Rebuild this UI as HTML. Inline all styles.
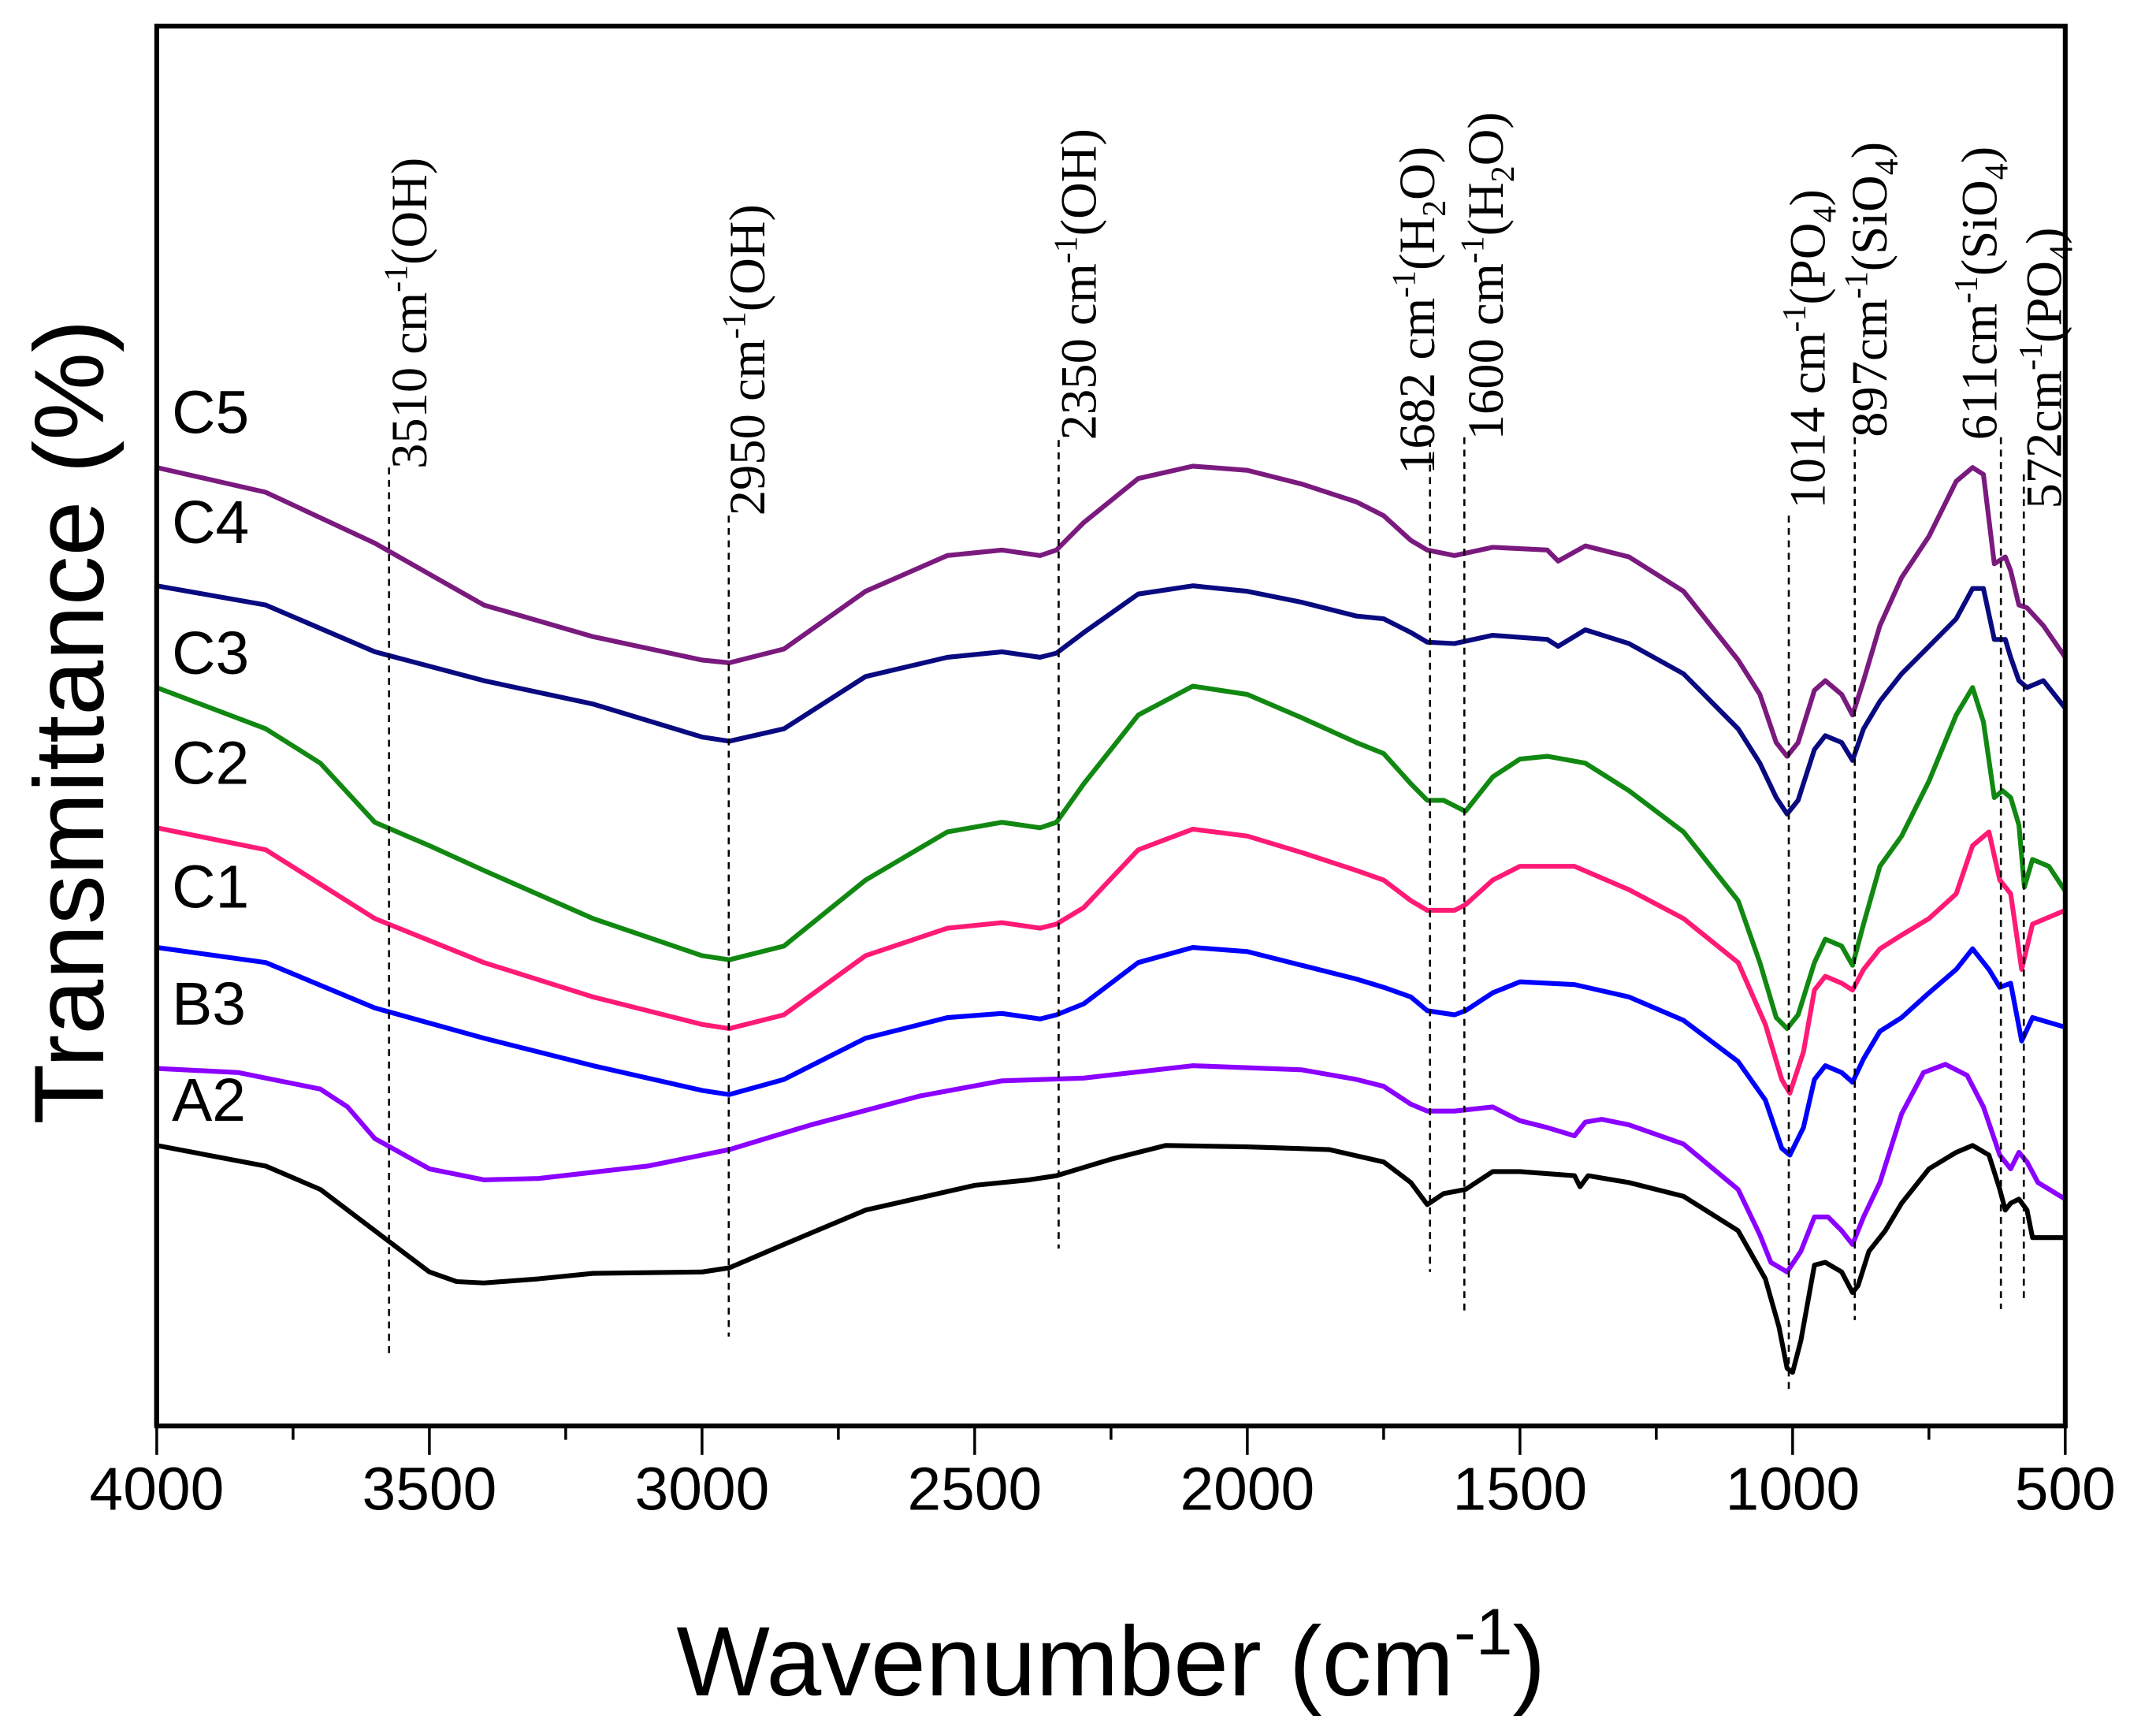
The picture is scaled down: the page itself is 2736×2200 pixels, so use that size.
<!DOCTYPE html>
<html><head><meta charset="utf-8"><style>
html,body{margin:0;padding:0;background:#fff}
svg{display:block}
</style></head><body>
<svg id="chart" xmlns="http://www.w3.org/2000/svg" width="2736" height="2200" viewBox="0 0 1568 1261" preserveAspectRatio="none">
<rect width="1568" height="1261" fill="#fff"/>
<g id="marks"></g>
<g id="annots"></g>
<rect x="114" y="19" width="1388" height="1018" fill="none" stroke="#000" stroke-width="3.5"/>
<g id="axis"></g>
<text transform="translate(75,525) rotate(-90)" text-anchor="middle" font-family="Liberation Sans, sans-serif" font-size="72">Transmittance (%)</text>
<text x="808" y="1233" text-anchor="middle" font-family="Liberation Sans, sans-serif" font-size="72">Wavenumber (cm<tspan dy="-30" font-size="48">-1</tspan><tspan dy="30">)</tspan></text>
</svg>
<script>
const xTicks=[4000,3500,3000,2500,2000,1500,1000,500];
const seriesNames=["A2","B3","C1","C2","C3","C4","C5"];
const seriesColors=["#000000","#8B00FF","#0000FF","#FF1A75","#118811","#0A0A80","#7A1A7E"];
const labelY=[815,745,660,570,490,395,315];
// values = transmittance (arbitrary units, 0 at bottom of frame, 1018 at top)
const wA2=[4000,3800,3700,3600,3500,3450,3400,3300,3200,3000,2950,2850,2700,2500,2400,2350,2250,2150,2000,1850,1750,1700,1670,1640,1600,1550,1500,1400,1390,1375,1300,1200,1100,1050,1025,1010,1000,985,960,940,910,890,880,860,830,800,750,700,670,640,620,610,600,585,570,560,540,500];
const vA2=[204,189,172,142,112,105,104,107,111,112,115,132,157,175,179,182,194,204,203,201,192,177,161,169,172,185,185,182,174,182,177,167,142,107,72,42,39,62,117,119,112,97,102,127,142,162,187,199,204,197,172,157,162,165,157,137,137,137];
const wB3=[4000,3850,3700,3650,3600,3500,3400,3300,3100,2950,2800,2600,2450,2300,2100,1900,1800,1750,1700,1670,1620,1550,1500,1450,1400,1380,1350,1300,1200,1100,1060,1040,1010,985,960,935,910,890,870,840,800,760,720,680,650,620,600,585,570,550,500];
const vB3=[260,257,245,232,209,187,179,180,189,201,219,240,251,253,262,259,252,247,234,229,229,232,222,217,211,221,223,219,205,172,139,119,112,127,152,152,142,132,152,177,227,257,263,255,232,197,187,199,192,177,165];
const wC=[4000,3800,3600,3400,3200,3000,2950,2850,2700,2550,2450,2380,2350,2300,2200,2100,2000,1900,1800,1750,1700,1670,1620,1600,1550,1500,1400,1300,1200,1100,1050,1020,1005,980,960,940,910,890,870,840,800,750,700,670,640,620,600,580,560,500];
const vC1=[348,337,304,282,262,244,241,252,282,297,300,296,299,307,337,348,345,335,325,319,312,302,299,302,315,323,321,312,295,265,237,202,197,217,252,262,257,250,267,287,297,315,332,347,332,319,322,280,297,290];
const vC2=[435,419,369,337,312,292,289,299,342,362,366,362,365,377,419,434,429,417,404,397,382,375,375,379,397,407,407,390,369,337,292,252,242,272,317,327,322,317,332,347,357,369,387,422,432,397,387,332,365,375];
const wC3=[4000,3800,3700,3600,3500,3400,3200,3000,2950,2850,2700,2550,2450,2380,2350,2300,2200,2100,2000,1900,1800,1750,1700,1670,1640,1600,1550,1500,1450,1380,1300,1200,1100,1060,1030,1010,990,960,940,910,890,870,840,800,750,700,670,650,630,615,600,585,575,560,530,500];
const vC3=[537,507,482,439,422,404,369,342,339,349,397,432,439,435,439,467,517,538,532,515,497,489,467,455,455,447,472,485,487,482,462,432,382,337,297,289,299,337,354,349,335,365,407,429,469,517,537,512,457,462,457,437,392,412,407,389];
const wC45=[4000,3800,3600,3400,3200,3000,2950,2850,2700,2550,2450,2380,2350,2300,2200,2100,2000,1900,1800,1750,1700,1670,1620,1550,1450,1430,1380,1300,1200,1100,1060,1030,1010,990,960,940,910,890,870,840,800,750,700,670,650,630,610,600,585,570,540,500];
const vC4=[611,597,563,542,525,501,498,507,545,559,563,559,562,577,605,611,607,599,589,587,577,570,569,575,572,567,579,569,547,507,482,457,445,455,492,502,497,484,507,527,547,567,587,609,609,572,572,559,542,537,542,522];
const vC5=[697,679,642,597,574,557,555,565,607,633,637,633,637,657,689,698,695,685,672,662,644,637,633,639,637,629,640,632,607,557,532,497,487,497,535,542,532,517,542,582,617,647,687,697,692,627,632,622,597,595,582,559];
const seriesW=[wA2,wB3,wC,wC,wC3,wC45,wC45];
const seriesV=[vA2,vB3,vC1,vC2,vC3,vC4,vC5];
const annotWave=[3574,2951,2346,1665,1602,1007,886,618,576];
const annotTop=[340,375,320,320,318,375,318,318,345];
const annotBottom=[985,972,908,925,955,1010,960,952,948];
const annotLabels=[["3510 cm","-1","(OH)",""],["2950 cm","-1","(OH)",""],["2350 cm","-1","(OH)",""],["1682 cm","-1","(H","2","O)"],["1600 cm","-1","(H","2","O)"],["1014 cm","-1","(PO","4",")"],["897cm","-1","(SiO","4",")"],["611cm","-1","(SiO","4",")"],["572cm","-1","(PO","4",")"]];
const annotLabelX=[310,556,797,1043,1093,1327,1372,1452,1499];
const annotLabelBottom=[341,375,320,345,320,370,318,320,370];

const L=114,R=1502,T=19,B=1037;
const xS=w=>L+(4000-w)*(R-L)/3500;
const yS=v=>B-v*(B-T)/1018;
const NS="http://www.w3.org/2000/svg";
const marks=document.getElementById('marks');
const annots=document.getElementById('annots');
const axis=document.getElementById('axis');

seriesNames.forEach((n,i)=>{
  const p=document.createElementNS(NS,'path');
  
  
  let d='';
  seriesW[i].forEach((w,k)=>{d+=(k?'L':'M')+xS(w).toFixed(1)+','+yS(seriesV[i][k]).toFixed(1);});
  p.setAttribute('d',d);
  p.setAttribute('fill','none');
  p.setAttribute('stroke',seriesColors[i]);
  p.setAttribute('stroke-width','3.5');
  p.setAttribute('stroke-linejoin','round');
  marks.appendChild(p);
  const t=document.createElementNS(NS,'text');
  
  
  t.setAttribute('x','125');t.setAttribute('y',labelY[i]);
  t.setAttribute('font-family','Liberation Sans, sans-serif');
  t.setAttribute('font-size','44');
  t.textContent=n;
  marks.appendChild(t);
  const s=document.createElementNS(NS,'line');
  
  
  s.setAttribute('x1',L);s.setAttribute('x2',L);
  s.setAttribute('y1',yS(seriesV[i][0]));s.setAttribute('y2',B);
  s.setAttribute('stroke',seriesColors[i]);s.setAttribute('stroke-width','3.5');
  marks.appendChild(s);
});

annotWave.forEach((w,i)=>{
  const l=document.createElementNS(NS,'line');
  
  
  l.setAttribute('x1',xS(w));l.setAttribute('x2',xS(w));
  l.setAttribute('y1',annotTop[i]);l.setAttribute('y2',annotBottom[i]);
  l.setAttribute('stroke','#000');l.setAttribute('stroke-width','1.5');
  l.setAttribute('stroke-dasharray','5,4');
  annots.appendChild(l);
  const t=document.createElementNS(NS,'text');
  
  
  t.setAttribute('transform','translate('+annotLabelX[i]+','+annotLabelBottom[i]+') rotate(-90)');
  t.setAttribute('font-family','Liberation Serif, serif');
  t.setAttribute('font-size','37');
  const parts=annotLabels[i];
  const a=document.createElementNS(NS,'tspan');a.textContent=parts[0];t.appendChild(a);
  const b=document.createElementNS(NS,'tspan');b.setAttribute('dy','-14');b.setAttribute('font-size','24');b.textContent=parts[1];t.appendChild(b);
  const c=document.createElementNS(NS,'tspan');c.setAttribute('dy','14');c.textContent=parts[2];t.appendChild(c);
  if(parts[3]){const d=document.createElementNS(NS,'tspan');d.setAttribute('dy','8');d.setAttribute('font-size','24');d.textContent=parts[3];t.appendChild(d);}
  if(parts[4]){const e=document.createElementNS(NS,'tspan');e.setAttribute('dy','-8');e.textContent=parts[4];t.appendChild(e);}
  annots.appendChild(t);
});

for(let w=4000;w>=500;w-=250){
  const major=(w%500===0);
  const l=document.createElementNS(NS,'line');
  
  
  l.setAttribute('x1',xS(w));l.setAttribute('x2',xS(w));
  l.setAttribute('y1',B);l.setAttribute('y2',major?1058:1047);
  l.setAttribute('stroke','#000');l.setAttribute('stroke-width','2');
  axis.appendChild(l);
}
xTicks.forEach(w=>{
  const t=document.createElementNS(NS,'text');
  
  
  t.setAttribute('x',xS(w));t.setAttribute('y','1098');
  t.setAttribute('text-anchor','middle');
  t.setAttribute('font-family','Liberation Sans, sans-serif');
  t.setAttribute('font-size','44');
  t.textContent=w;
  axis.appendChild(t);
});
</script>
</body></html>
